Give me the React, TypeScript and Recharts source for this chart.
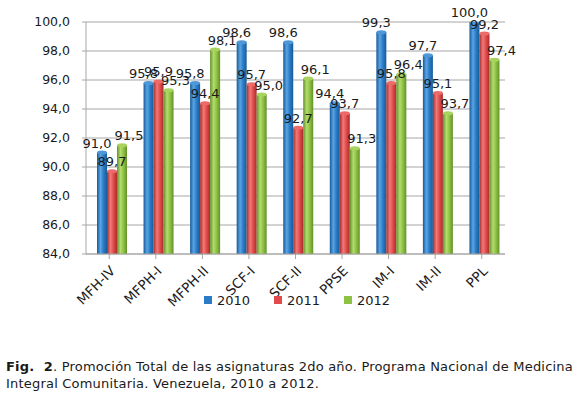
import { BarChart, Bar, XAxis, YAxis, CartesianGrid, Legend, LabelList } from 'recharts';

const categories = ['MFH-IV', 'MFPH-I', 'MFPH-II', 'SCF-I', 'SCF-II', 'PPSE', 'IM-I', 'IM-II', 'PPL'];
const y2010 = [91.0, 95.8, 95.8, 98.6, 98.6, 94.4, 99.3, 97.7, 100.0];
const y2011 = [89.7, 95.9, 94.4, 95.7, 92.7, 93.7, 95.8, 95.1, 99.2];
const y2012 = [91.5, 95.3, 98.1, 95.0, 96.1, 91.3, 96.4, 93.7, 97.4];
const yTicks = [84, 86, 88, 90, 92, 94, 96, 98, 100];

const data = categories.map((name, i) => ({
  name,
  y2010: y2010[i],
  y2011: y2011[i],
  y2012: y2012[i],
}));

const font = '"DejaVu Sans", Verdana, sans-serif';
const fmt = (v: number) => v.toFixed(1).replace('.', ',');

const series = [
  { key: 'y2010', name: '2010', color: '#2a7cc6', dark: '#175a98', light: '#5aa4e4', top: '#4f98d8', dx: -5 },
  { key: 'y2011', name: '2011', color: '#e14b4b', dark: '#a82c2c', light: '#f07a78', top: '#ec6a68', dx: 0 },
  { key: 'y2012', name: '2012', color: '#8fc143', dark: '#62902a', light: '#b3dc6e', top: '#a7d35e', dx: 7 },
];

// small shift to the right, like the depth of the 3D original
const DEPTH = 3;

const Cylinder = (props: any) => {
  const { x, y, width, height, fill, topColor } = props;
  if (!height || height <= 0) return null;
  const cx = x + DEPTH;
  return (
    <g>
      <rect x={cx} y={y} width={width} height={height} fill={fill} />
      <ellipse cx={cx + width / 2} cy={y} rx={width / 2} ry={2} fill={topColor} />
    </g>
  );
};

const makeLabel = (dx: number) => (props: any) => {
  const { x, y, width, value } = props;
  return (
    <text
      x={x + DEPTH + width / 2 + dx}
      y={y - 5}
      textAnchor="middle"
      fontFamily={font}
      fontSize={13}
      fill="#1a1a1a"
    >
      {fmt(value)}
    </text>
  );
};

const XTick = (props: any) => {
  const { x, y, payload } = props;
  return (
    <g transform={`translate(${x + 4},${y + 8})`}>
      <text transform="rotate(-45)" textAnchor="end" fontFamily={font} fontSize={13.5} fill="#1a1a1a" dy={4}>
        {payload.value}
      </text>
    </g>
  );
};

const LegendContent = () => (
  <div style={{ display: 'flex', paddingLeft: 204, fontFamily: font, fontSize: 13, color: '#1a1a1a', height: 20, alignItems: 'center' }}>
    {series.map((s) => (
      <div key={s.key} style={{ display: 'flex', alignItems: 'center', width: 70 }}>
        <span style={{ display: 'inline-block', width: 8, height: 8, background: s.color, marginRight: 5 }} />
        <span>{s.name}</span>
      </div>
    ))}
  </div>
);

export default function App() {
  return (
    <div style={{ position: 'absolute', left: 0, top: 0, width: 579, height: 397, background: '#fff' }}>
      <BarChart
        width={579}
        height={310}
        data={data}
        margin={{ top: 22, right: 74, left: 0, bottom: 0 }}
        barGap={0}
      >
        <defs>
          {series.map((s) => (
            <linearGradient key={s.key} id={`g${s.key}`} x1="0" y1="0" x2="1" y2="0">
              <stop offset="0%" stopColor={s.dark} />
              <stop offset="35%" stopColor={s.light} />
              <stop offset="65%" stopColor={s.color} />
              <stop offset="100%" stopColor={s.dark} />
            </linearGradient>
          ))}
        </defs>
        <CartesianGrid vertical={false} stroke="#a6a6a6" strokeWidth={1} />
        <XAxis
          dataKey="name"
          interval={0}
          height={36}
          tick={<XTick />}
          stroke="#a6a6a6"
          tickSize={5}
        />
        <YAxis
          domain={[84, 100]}
          ticks={yTicks}
          width={86}
          tickFormatter={fmt}
          stroke="#a6a6a6"
          tickSize={4}
          tickMargin={12}
          tick={{ fontFamily: font, fontSize: 12.5, fill: '#1a1a1a' }}
          allowDataOverflow
        />
        <Legend content={<LegendContent />} wrapperStyle={{ left: 0, width: 579 }} />
        {series.map((s) => (
          <Bar
            key={s.key}
            dataKey={s.key}
            name={s.name}
            fill={`url(#g${s.key})`}
            barSize={10}
            isAnimationActive={false}
            shape={(p: any) => <Cylinder {...p} topColor={s.top} />}
          >
            <LabelList dataKey={s.key} content={makeLabel(s.dx)} />
          </Bar>
        ))}
      </BarChart>
      <div
        style={{
          position: 'absolute',
          left: 6,
          top: 358,
          width: 600,
          whiteSpace: 'nowrap',
          fontFamily: font,
          fontSize: 13,
          letterSpacing: 0.2,
          lineHeight: '17px',
          color: '#1a1a1a',
        }}
      >
        <b>Fig.&nbsp; 2</b>. Promoción Total de las asignaturas 2do año. Programa Nacional de Medicina
        <br />
        Integral Comunitaria. Venezuela, 2010 a 2012.
      </div>
    </div>
  );
}
